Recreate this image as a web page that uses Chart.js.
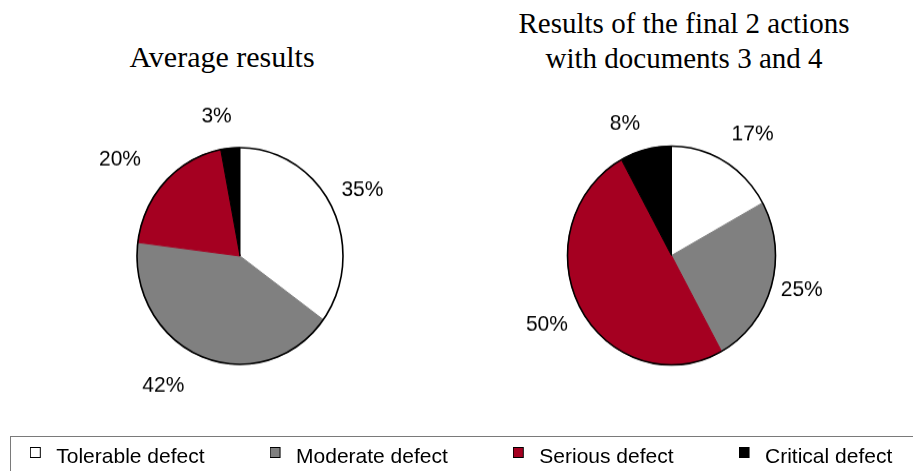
<!DOCTYPE html>
<html>
<head>
<meta charset="utf-8">
<script src="https://cdn.jsdelivr.net/npm/chart.js@4.4.1/dist/chart.umd.min.js"></script>
<style>
html,body{margin:0;padding:0;width:913px;height:471px;overflow:hidden;background:#fff;position:relative;}
canvas{position:absolute;}
.title{position:absolute;font-family:'Liberation Serif','Times New Roman',serif;font-size:29px;line-height:34.5px;color:#000;text-align:center;white-space:nowrap;}
#legendFrame{position:absolute;left:10px;top:436px;width:940px;height:80px;border:1px solid #7a7a7a;box-sizing:border-box;}
.pie{transform:scaleY(1.052);transform-origin:50% 50%;}
</style>
</head>
<body>
<div class="title" style="left:122px;top:40px;width:200px;font-size:30px;">Average results</div>
<div class="title" style="left:484px;top:6px;width:400px;">Results of the final 2 actions<br>with documents 3 and 4</div>
<div id="legendFrame"></div>
<canvas id="pieA" class="pie" width="480" height="400" style="left:0px;top:56px;"></canvas>
<canvas id="pieB" class="pie" width="461" height="401" style="left:441px;top:55px;"></canvas>
<canvas id="legendCanvas" width="1040" height="240" style="left:-59px;top:382px;"></canvas>
<script>
// ---- data ----
const categories = ['Tolerable defect', 'Moderate defect', 'Serious defect', 'Critical defect'];
const averageValues = [35, 42, 20, 3];
const finalActionValues = [17, 25, 50, 8];
const sliceColors = ['#FFFFFF', '#808080', '#A50021', '#000000'];

const STRETCH = 1.052;
const LABEL_FONT = "21px 'Liberation Sans', Arial, sans-serif";

// outline + outside percentage labels
const sliceLabels = {
  id: 'sliceLabels',
  afterDatasetsDraw(chart, args, opts) {
    const ctx = chart.ctx;
    const meta = chart.getDatasetMeta(0);
    const values = chart.data.datasets[0].data;
    const s = opts.stretch || 1;
    const first = meta.data[0];
    ctx.save();
    ctx.beginPath();
    ctx.arc(first.x, first.y, first.outerRadius, 0, Math.PI * 2);
    ctx.lineWidth = opts.outlineWidth;
    ctx.strokeStyle = '#000';
    ctx.stroke();
    ctx.font = LABEL_FONT;
    ctx.fillStyle = '#000';
    ctx.textAlign = 'center';
    ctx.textBaseline = 'middle';
    meta.data.forEach((arc, i) => {
      const mid = (arc.startAngle + arc.endAngle) / 2;
      const phi = Math.atan2(Math.sin(mid) * s, Math.cos(mid)) + (opts.angleShift[i] || 0) * Math.PI / 180;
      const D = opts.distance[i];
      const ox = Math.cos(phi) * D;
      const oy = Math.sin(phi) * D / s;
      ctx.save();
      ctx.translate(arc.x + ox, arc.y + oy);
      ctx.scale(1, 1 / s);
      ctx.fillText(values[i] + '%', 0, 0);
      ctx.restore();
    });
    ctx.restore();
  }
};

function pieConfig(values, radius, angleShift, distance) {
  return {
    type: 'pie',
    data: {
      labels: categories,
      datasets: [{
        data: values,
        backgroundColor: sliceColors,
        borderColor: sliceColors,
        borderWidth: 1
      }]
    },
    options: {
      responsive: false,
      animation: false,
      devicePixelRatio: 1,
      events: [],
      radius: radius,
      layout: { padding: 0 },
      plugins: {
        legend: { display: false },
        tooltip: { enabled: false },
        title: { display: false },
        sliceLabels: { stretch: STRETCH, outlineWidth: 1.6, angleShift: angleShift, distance: distance }
      }
    },
    plugins: [sliceLabels]
  };
}

new Chart(document.getElementById('pieA'),
  pieConfig(averageValues, 103, [-0.1, 10, -6, -4.4], [139, 150.4, 153.7, 141.2]));
new Chart(document.getElementById('pieB'),
  pieConfig(finalActionValues, 104, [4.4, -2.2, 0.9, -5.8], [146, 134.7, 142.6, 139.5]));

// legend markers
function makeMarker(color) {
  const c = document.createElement('canvas');
  c.width = 16; c.height = 21;
  const g = c.getContext('2d');
  g.fillStyle = '#000';
  g.fillRect(0, 0, 11, 11);
  g.fillStyle = color;
  g.fillRect(1, 1, 9, 9);
  return c;
}

new Chart(document.getElementById('legendCanvas'), {
  type: 'pie',
  data: {
    labels: categories,
    datasets: [{ data: averageValues, backgroundColor: 'rgba(0,0,0,0)', borderWidth: 0 }]
  },
  options: {
    responsive: false,
    animation: false,
    devicePixelRatio: 1,
    events: [],
    radius: 0,
    layout: { padding: 0 },
    plugins: {
      tooltip: { enabled: false },
      legend: {
        display: true,
        position: 'top',
        align: 'center',
        labels: {
          font: { family: "'Liberation Sans', Arial, sans-serif", size: 21 },
          color: '#000',
          padding: 65,
          usePointStyle: true,
          pointStyleWidth: 16,
          generateLabels(chart) {
            return chart.data.labels.map((text, i) => ({
              text: text,
              fillStyle: sliceColors[i],
              strokeStyle: '#000',
              lineWidth: 1,
              fontColor: '#000',
              pointStyle: makeMarker(sliceColors[i]),
              hidden: false,
              index: i
            }));
          }
        }
      }
    }
  }
});
</script>
</body>
</html>
